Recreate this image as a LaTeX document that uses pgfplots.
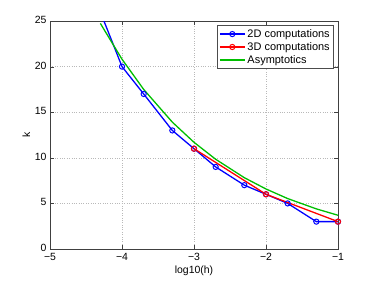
\documentclass[border=0pt]{standalone}
\usepackage{fontspec}
\setmainfont{Liberation Sans}
\usepackage{pgfplots}
\pgfplotsset{compat=1.18}
\definecolor{mgreen}{rgb}{0,0.75,0}
\begin{document}
\begin{tikzpicture}[x=1bp,y=1bp]
\path (0,0) rectangle (374,281);
\begin{axis}[
  at={(50bp,32bp)}, anchor=south west,
  width=288bp, height=228bp, scale only axis,
  xmin=-5, xmax=-1, ymin=0, ymax=25,
  xtick={-5,-4,-3,-2,-1}, ytick={0,5,10,15,20,25},
  xticklabels={\textminus5,\textminus4,\textminus3,\textminus2,\textminus1},
  yticklabels={0,5,10,15,20,25},
  tick label style={font=\fontsize{10.5}{12}\selectfont},
  xticklabel style={yshift=-0.5bp},
  yticklabel style={yshift=1bp},
  label style={font=\fontsize{10.5}{12}\selectfont},
  xlabel={log10(h)}, ylabel={k},
  xlabel style={yshift=1bp}, ylabel style={yshift=-2bp},
  tick align=inside, major tick length=4bp,
  xtick pos=both, ytick pos=both,
  grid=major, grid style={dotted, gray!55, line width=0.5pt},
  axis line style={black!75, line width=0.6pt},
  tick style={black!75},
  legend style={at={(0.986,0.982)}, anchor=north east, font=\fontsize{11}{12}\selectfont,
    draw=black!70, line width=0.5pt, row sep=-0.5bp, inner sep=2bp},
  legend cell align=left,
  every legend image post/.style={line width=1.4pt, mark options={line width=1pt}},
  legend image code/.code={
    \draw[mark repeat=2, mark phase=2, #1] plot coordinates {(0bp,0bp) (12.5bp,0bp) (25bp,0bp)};
  },
  clip=true,
]
\addplot[blue, line width=1.3pt, mark=o, mark size=2.6bp, mark options={line width=1pt}] coordinates {
(-4.301,26) (-4,20) (-3.699,17) (-3.301,13) (-3,11) (-2.699,9) (-2.301,7) (-2,6) (-1.699,5) (-1.301,3) (-1,3)};
\addlegendentry{2D computations}
\addplot[red, line width=1.3pt, mark=o, mark size=2.6bp, mark options={line width=1pt}] coordinates {
(-3,11) (-2,6) (-1,3)};
\addlegendentry{3D computations}
\addplot[mgreen, line width=1.3pt] coordinates {
(-4.301,24.74) (-4,20.81) (-3.699,17.50) (-3.301,13.91) (-3,11.70) (-2.699,9.84) (-2.301,7.82) (-2,6.58) (-1.699,5.53) (-1.301,4.40) (-1,3.70)};
\addlegendentry{Asymptotics}
\end{axis}
\end{tikzpicture}
\end{document}
